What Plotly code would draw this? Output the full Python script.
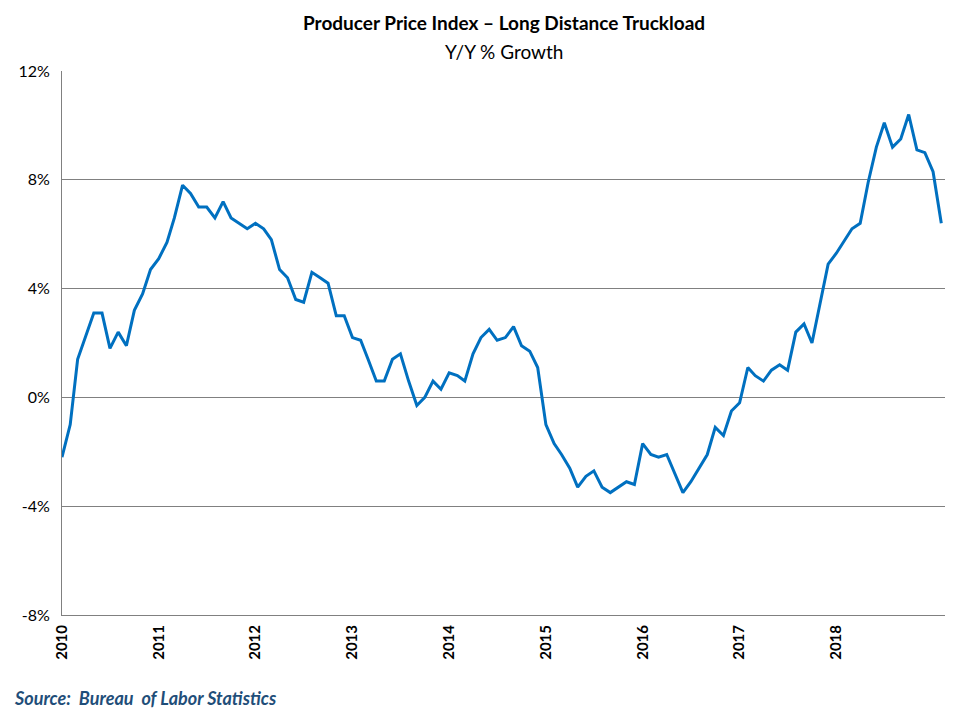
import plotly.graph_objects as go
import pandas as pd

values = [
    -2.2, -1.0, 1.4, 2.3, 3.1, 3.1, 1.8, 2.4, 1.9, 3.2, 3.8, 4.7,
    5.1, 5.7, 6.6, 7.8, 7.5, 7.0, 7.0, 6.6, 7.2, 6.6, 6.4, 6.2,
    6.4, 6.2, 5.8, 4.7, 4.4, 3.6, 3.5, 4.6, 4.4, 4.2, 3.0, 3.0,
    2.2, 2.1, 1.4, 0.6, 0.6, 1.4, 1.6, 0.6, -0.3, 0.0, 0.6, 0.3,
    0.9, 0.8, 0.6, 1.6, 2.2, 2.5, 2.1, 2.2, 2.6, 1.9, 1.7, 1.1,
    -1.0, -1.7, -2.1, -2.6, -3.3, -2.9, -2.7, -3.3, -3.5, -3.3, -3.1, -3.2,
    -1.7, -2.1, -2.2, -2.1, -2.8, -3.5, -3.1, -2.6, -2.1, -1.1, -1.4, -0.5,
    -0.2, 1.1, 0.8, 0.6, 1.0, 1.2, 1.0, 2.4, 2.7, 2.0, 3.5, 4.9,
    5.3, 5.8, 6.2, 6.4, 7.9, 9.2, 10.1, 9.2, 9.5, 10.4, 9.1, 9.0,
    8.3, 6.4,
]
dates = pd.date_range("2010-01-01", periods=len(values), freq="MS")
year_ticks = [f"{y}-01-01" for y in range(2010, 2019)]
year_labels = [f"<b>{y}</b>" for y in range(2010, 2019)]
y_ticks = [-8, -4, 0, 4, 8, 12]
y_labels = [f"{v}%" for v in y_ticks]

fig = go.Figure(go.Scatter(x=dates, y=values, mode="lines",
                           line=dict(color="#0070C0", width=3), hoverinfo="skip"))
fig.update_layout(
    width=944, height=712, plot_bgcolor="white", paper_bgcolor="white",
    margin=dict(l=54, r=7, t=63, b=105),
    showlegend=False,
    font=dict(family="Lato, Carlito, sans-serif", color="black"),
)
fig.add_annotation(text="<b>Producer Price Index – Long Distance Truckload</b>", xref="paper", yref="paper",
                   x=0.5, y=1.090, xanchor="center", yanchor="middle", showarrow=False, font=dict(size=19))
fig.add_annotation(text="Y/Y % Growth", xref="paper", yref="paper",
                   x=0.5, y=1.035, xanchor="center", yanchor="middle", showarrow=False, font=dict(size=19))
fig.update_xaxes(range=["2010-01-01", "2019-02-15"], tickvals=year_ticks, ticktext=year_labels,
                 tickangle=-90, tickfont=dict(size=15, color="black"), ticklabelstandoff=3,
                 showgrid=False, showline=True, linecolor="#808080", ticks="", zeroline=False)
fig.update_yaxes(range=[-8, 12], tickvals=y_ticks, ticktext=y_labels, ticklabelstandoff=8,
                 tickfont=dict(size=16, color="black"), showgrid=True, gridcolor="#808080",
                 showline=True, linecolor="#808080", zeroline=False, ticks="")
fig.add_annotation(text="<b><i>Source:  Bureau  of Labor Statistics</i></b>", xref="paper", yref="paper",
                   x=-0.057, y=-0.153, xanchor="left", yanchor="middle", showarrow=False,
                   font=dict(size=18, color="#1F4E79"))
fig.write_html("out.html")
